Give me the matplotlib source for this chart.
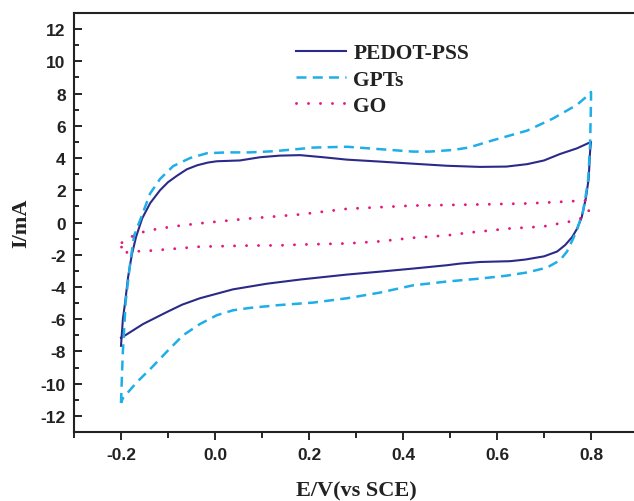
import matplotlib
matplotlib.use("Agg")
import matplotlib.pyplot as plt
from matplotlib.ticker import MultipleLocator

# PEDOT-PSS loop (forward then reverse scan)
pedot_E = [-0.200, -0.196, -0.191, -0.185, -0.177, -0.168, -0.155, -0.138, -0.117, -0.100,
           -0.081, -0.060, -0.038, -0.015, 0.004, 0.053, 0.096, 0.138, 0.181, 0.230,
           0.281, 0.351, 0.421, 0.494, 0.564, 0.620, 0.664, 0.700, 0.734, 0.770, 0.800,
           0.798, 0.795, 0.789, 0.780, 0.770, 0.760, 0.745, 0.728, 0.700, 0.660,
           0.628, 0.564, 0.521, 0.494, 0.421, 0.351, 0.281, 0.181, 0.110, 0.038,
           -0.032, -0.070, -0.102, -0.153, -0.191, -0.200]
pedot_I = [-7.65, -6.0, -4.9, -3.4, -2.0, -0.9, 0.25, 1.2, 2.0, 2.5,
           2.9, 3.3, 3.55, 3.72, 3.8, 3.85, 4.05, 4.15, 4.18, 4.05,
           3.9, 3.78, 3.65, 3.52, 3.45, 3.47, 3.62, 3.85, 4.25, 4.6, 5.0,
           4.4, 2.7, 1.5, 0.3, -0.4, -0.9, -1.4, -1.8, -2.1, -2.3,
           -2.4, -2.45, -2.55, -2.65, -2.86, -3.05, -3.23, -3.54, -3.8, -4.15,
           -4.7, -5.1, -5.55, -6.3, -7.0, -7.15]

# GPTs loop
gpt_E = [-0.200, -0.198, -0.196, -0.190, -0.180, -0.172, -0.158, -0.138, -0.117, -0.089,
         -0.053, -0.017, 0.026, 0.074, 0.123, 0.174, 0.209, 0.281, 0.351, 0.421,
         0.457, 0.506, 0.540, 0.591, 0.664, 0.719, 0.770, 0.794, 0.800,
         0.800, 0.798, 0.794, 0.789, 0.783, 0.772, 0.762, 0.749, 0.734, 0.706,
         0.664, 0.620, 0.564, 0.494, 0.421, 0.351, 0.281, 0.209, 0.138, 0.074,
         0.038, 0.004, -0.032, -0.068, -0.102, -0.138, -0.166, -0.196, -0.200]
gpt_I = [-11.2, -9.5, -8.0, -4.9, -2.4, -0.8, 0.25, 1.8, 2.7, 3.5,
         4.0, 4.3, 4.35, 4.35, 4.42, 4.55, 4.65, 4.7, 4.55, 4.4,
         4.4, 4.5, 4.65, 5.1, 5.7, 6.45, 7.3, 7.9, 8.1,
         7.5, 4.8, 2.7, 1.7, 0.7, -0.3, -1.0, -1.8, -2.35, -2.8,
         -3.1, -3.3, -3.48, -3.66, -3.9, -4.35, -4.7, -4.97, -5.12, -5.3,
         -5.45, -5.75, -6.3, -7.0, -8.0, -9.1, -9.9, -10.9, -11.2]

# GO loop
go_E = [-0.198, -0.170, -0.143, -0.090, -0.032, 0.074, 0.138, 0.181, 0.281, 0.421,
        0.564, 0.664, 0.734, 0.787, 0.798,
        0.792, 0.783, 0.755, 0.698, 0.628, 0.543, 0.494, 0.421, 0.351, 0.281,
        0.181, 0.138, 0.074, -0.032, -0.138, -0.174, -0.200, -0.198]
go_I = [-1.25, -0.75, -0.5, -0.25, -0.05, 0.25, 0.4, 0.5, 0.85, 1.05,
        1.12, 1.18, 1.28, 1.37, 0.93,
        0.5, 0.3, 0.06, -0.25, -0.37, -0.62, -0.8, -0.95, -1.17, -1.3,
        -1.37, -1.42, -1.43, -1.5, -1.75, -1.8, -1.9, -1.25]

fig = plt.figure(figsize=(6.34, 5.02), dpi=100)
ax = fig.add_axes([74/634, 69/502, 564/634, 419/502])

ax.plot(pedot_E, pedot_I, color='#2b2a88', lw=1.5, label='PEDOT-PSS')
ax.plot(gpt_E, gpt_I, color='#1eaee8', lw=1.8, dashes=(4, 2.5), label='GPTs')
ax.plot(go_E, go_I, color='#e5177a', lw=2.1, dashes=(0.01, 4.1),
        dash_capstyle='round', label='GO')

ax.set_xlim(-0.3, 0.9)
ax.set_ylim(-13, 13)
ax.xaxis.set_minor_locator(MultipleLocator(0.1))
ax.yaxis.set_minor_locator(MultipleLocator(1))
ax.set_xticks([-0.2, 0.0, 0.2, 0.4, 0.6, 0.8])
ax.set_xticklabels(['-0.2', '0.0', '0.2', '0.4', '0.6', '0.8'])
ax.set_yticks(range(-12, 13, 2))
ax.set_yticklabels([str(v) for v in range(-12, 13, 2)])

for s in ax.spines.values():
    s.set_linewidth(1.5)
    s.set_color('#222222')

ax.tick_params(axis='x', which='major', direction='out', length=6, width=1.2, pad=5)
ax.tick_params(axis='x', which='minor', direction='out', length=4, width=1.2)
ax.tick_params(axis='y', which='major', direction='in', length=6, width=1.2, pad=6)
ax.tick_params(axis='y', which='minor', direction='in', length=3.5, width=1.2)
for lab in ax.get_xticklabels() + ax.get_yticklabels():
    lab.set_fontfamily('Liberation Sans')
    lab.set_fontweight('bold')
    lab.set_fontsize(12.5)
    lab.set_color('#222222')

ax.set_xlabel('E/V(vs SCE)', family='Liberation Serif', fontweight='bold', fontsize=16, color='#222222')
ax.set_ylabel('I/mA', family='Liberation Serif', fontweight='bold', fontsize=16, color='#222222')
ax.xaxis.set_label_coords(0.5, -0.115)
ax.yaxis.set_label_coords(-0.076, 0.5)

leg = ax.legend(loc='upper left', bbox_to_anchor=(0.394, 0.928), frameon=False,
                prop={'family': 'Liberation Serif', 'weight': 'bold', 'size': 15.5},
                handlelength=2.3, handletextpad=0.35, labelspacing=0.29, borderpad=0,
                borderaxespad=0)
for t in leg.get_texts():
    t.set_color('#222222')

fig.savefig('out.png', dpi=100)
